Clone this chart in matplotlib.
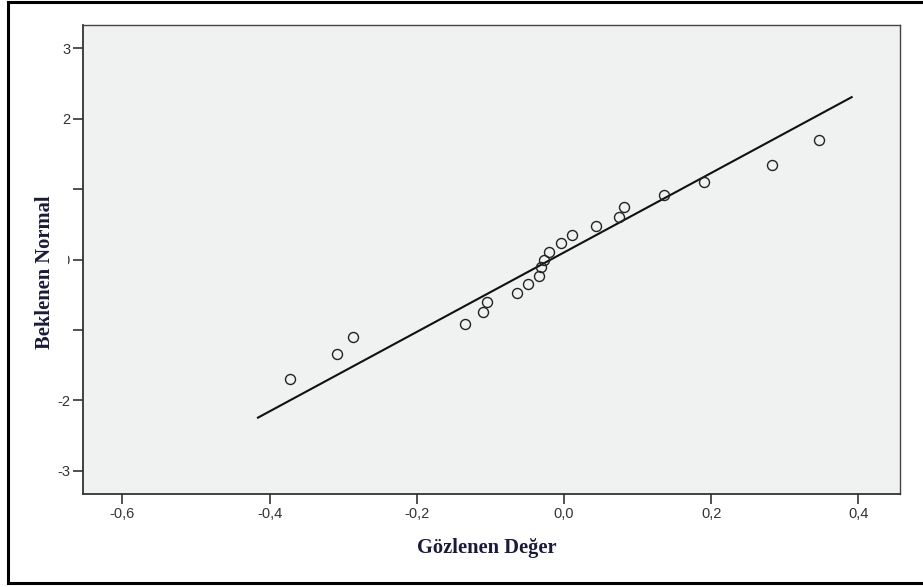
import matplotlib
matplotlib.use("Agg")
import matplotlib.pyplot as plt
from matplotlib.patches import Rectangle
from matplotlib.lines import Line2D
import numpy as np

observed = [-0.372, -0.308, -0.287, -0.134, -0.110, -0.104, -0.064, -0.049,
            -0.034, -0.031, -0.027, -0.021, -0.004, 0.011, 0.044, 0.075,
            0.082, 0.136, 0.190, 0.282, 0.347]
expected = [-1.69, -1.34, -1.10, -0.91, -0.75, -0.60, -0.47, -0.35,
            -0.23, -0.11, 0.00, 0.11, 0.23, 0.35, 0.47, 0.60,
            0.75, 0.91, 1.10, 1.34, 1.69]

# Reference line: mean and sd of the observed values, drawn over this x range
line_mean = -0.0178
line_sd = 0.1772
line_x = [-0.417, 0.392]

x_ticks = [-0.6, -0.4, -0.2, 0.0, 0.2, 0.4]
x_tick_labels = ["-0,6", "-0,4", "-0,2", "0,0", "0,2", "0,4"]
y_ticks = [-3, -2, -1, 0, 1, 2, 3]
y_tick_labels = ["-3", "-2", "", "0", "", "2", "3"]

x_label = "Gözlenen Değer"
y_label = "Beklenen Normal"

W, H = 923, 587
fig = plt.figure(figsize=(W / 100, H / 100), dpi=100)
fig.patch.set_facecolor("white")

ax = fig.add_axes([83.3 / W, 1 - 494 / H, (899.5 - 83.3) / W, (494 - 25) / H])
ax.set_facecolor("#f0f1f1")

lx = np.array(line_x)
ly = (lx - line_mean) / line_sd
ax.plot(lx, ly, color="#111111", lw=1.5, zorder=2, solid_capstyle="butt")
ax.plot(observed, expected, linestyle="none", marker="o", markersize=7.2,
        markerfacecolor="none", markeredgecolor="#222222", markeredgewidth=1.0,
        zorder=3)

ax.set_xlim(-0.653, 0.4557)
ax.set_ylim(-3.33, 3.33)
ax.set_xticks(x_ticks)
ax.set_xticklabels(x_tick_labels)
ax.set_yticks(y_ticks)
ax.set_yticklabels(y_tick_labels)

for s in ["left", "bottom"]:
    ax.spines[s].set_color("#333333")
    ax.spines[s].set_linewidth(1.3)
for s in ["top", "right"]:
    ax.spines[s].set_color("#444444")
    ax.spines[s].set_linewidth(1.0)

ax.tick_params(axis="both", which="major", direction="out", length=7.5,
               width=1.2, color="#333333", labelcolor="#333333",
               labelsize=10.5, pad=2, top=False, right=False)
for lab in ax.get_xticklabels() + ax.get_yticklabels():
    lab.set_fontfamily("Liberation Sans")

# white box behind the y label (partially hides the tick labels, as in the original)
fig.patches.append(Rectangle((30 / W, 1 - 352 / H), (67.5 - 30) / W, (352 - 180) / H,
                             transform=fig.transFigure, facecolor="white",
                             edgecolor="none", zorder=1))

fig.text(45.5 / W, 1 - 272.5 / H, y_label, rotation=90, ha="center", va="center",
         fontsize=14.8, fontweight="bold", family="Liberation Serif",
         color="#1a1a3c", zorder=3)
fig.text(486.7 / W, 1 - 548 / H, x_label, ha="center", va="center",
         fontsize=14.8, fontweight="bold", family="Liberation Serif",
         color="#1a1a3c", zorder=3)

# outer border (left, top, bottom)
for xs, ys in [([8 / W, 8 / W], [1 - 2 / H, 1 - 583 / H]),
               ([8 / W, 1.0], [1 - 2 / H, 1 - 2 / H]),
               ([8 / W, 1.0], [1 - 583 / H, 1 - 583 / H])]:
    fig.lines.append(Line2D(xs, ys, transform=fig.transFigure, color="black", lw=2.2))

fig.savefig("out.png", dpi=100)
